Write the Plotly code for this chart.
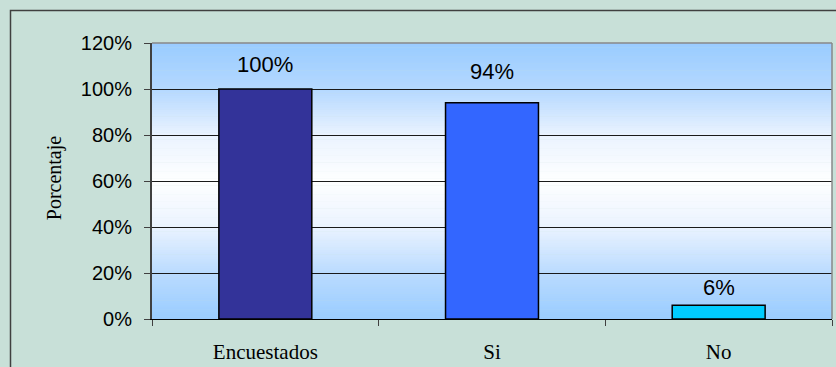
import plotly.graph_objects as go

categories = ["Encuestados", "Si", "No"]
values = [1.00, 0.94, 0.06]
bar_colors = ["#333399", "#3366ff", "#00ccff"]
label_shift = [10, 17, 3]
y_ticks = [0, 0.2, 0.4, 0.6, 0.8, 1.0, 1.2]

BG = "#c8e0d8"

fig = go.Figure()
fig.add_trace(go.Bar(
    x=categories, y=values,
    marker=dict(color=bar_colors, line=dict(color="black", width=1.5)),
    width=0.41, hoverinfo="skip",
))

# gradient background of plot area
stops = [(0.0, (153, 204, 255)), (0.2, (186, 219, 255)), (0.4, (234, 243, 255)),
         (0.6, (255, 255, 255)), (0.8, (234, 243, 255)), (1.0, (180, 216, 255)),
         (1.2, (153, 204, 255))]

def col_at(v):
    for (a, ca), (b, cb) in zip(stops[:-1], stops[1:]):
        if a <= v <= b:
            t = (v - a) / (b - a)
            c = [round(ca[i] + (cb[i] - ca[i]) * t) for i in range(3)]
            return "rgb(%d,%d,%d)" % tuple(c)
    return "rgb(153,204,255)"

shapes = []
n = 120
for i in range(n):
    y0 = 1.2 * i / n
    y1 = 1.2 * (i + 1) / n
    shapes.append(dict(type="rect", xref="paper", yref="y", x0=0, x1=1, y0=y0, y1=y1 + 0.002,
                       fillcolor=col_at((y0 + y1) / 2), line=dict(width=0), layer="below"))
# plot border top/right
shapes.append(dict(type="line", xref="paper", yref="paper", x0=0, x1=1, y0=1, y1=1,
                   line=dict(color="#888888", width=1.5)))
shapes.append(dict(type="line", xref="paper", yref="paper", x0=1, x1=1, y0=0, y1=1,
                   line=dict(color="#888888", width=1.5)))
# outer chart frame
shapes.append(dict(type="rect", xref="paper", yref="paper", x0=(10.5 - 152) / 680, x1=1.2,
                   y0=-0.5, y1=(319 - 10.5) / 276, line=dict(color="#404040", width=1.5),
                   fillcolor="rgba(0,0,0,0)", layer="below"))
fig.update_layout(shapes=shapes)

for c, v, s in zip(categories, values, label_shift):
    fig.add_annotation(x=c, y=v, text=f"{round(v * 100)}%", showarrow=False,
                       yanchor="bottom", yshift=s,
                       font=dict(family="Liberation Sans, Arial", size=22, color="black"))

fig.add_annotation(xref="paper", yref="paper", x=(54 - 152) / 680, y=0.51, text="Porcentaje",
                   textangle=-90, showarrow=False, xanchor="center", yanchor="middle",
                   font=dict(family="Liberation Serif, Times New Roman", size=20, color="black"))

fig.update_layout(
    width=836, height=367,
    margin=dict(l=152, r=4, t=43, b=48),
    paper_bgcolor=BG, plot_bgcolor=BG,
    showlegend=False, bargap=0.59,
    xaxis=dict(range=[-0.5, 2.5], showline=True, linecolor="black", linewidth=1,
               ticks="outside", tickson="boundaries", ticklen=6, tickcolor="#404040",
               showgrid=False, ticklabelstandoff=14,
               tickfont=dict(family="Liberation Serif, Times New Roman", size=21, color="black")),
    yaxis=dict(range=[0, 1.2], tickvals=y_ticks, tickformat=".0%", showline=True,
               linecolor="#404040", linewidth=2, ticks="outside", ticklen=6,
               tickcolor="#404040", showgrid=True, gridcolor="#1a1a1a", gridwidth=1,
               zeroline=False, ticklabelstandoff=8,
               tickfont=dict(family="Liberation Sans, Arial", size=20, color="black")),
)

fig.write_html("out.html")
